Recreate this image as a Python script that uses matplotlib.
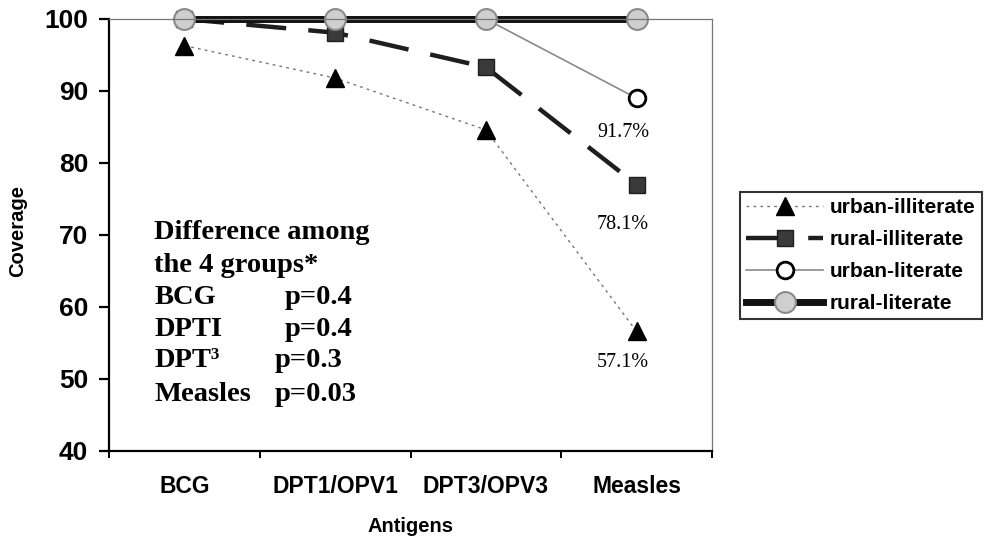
# ==========================================
# Immunisation coverage by group
# ==========================================

import matplotlib
matplotlib.use("Agg")
import matplotlib.pyplot as plt

# ==========================================
# Data
# ==========================================

antigens = ["BCG", "DPT1/OPV1", "DPT3/OPV3", "Measles"]

urban_illiterate = [96.3, 91.8, 84.6, 56.6]
rural_illiterate = [100, 98.1, 93.3, 77.0]
urban_literate = [100, 100, 100, 89.0]
rural_literate = [100, 100, 100, 100]

measles_labels = ["91.7%", "78.1%", "57.1%"]
measles_label_y = [84.3, 71.45, 52.25]

note_left = ["Difference among", "the 4 groups*", "BCG", "DPTI", "DPT\u00b3", "Measles"]
note_right = ["", "", "p=0.4", "p=0.4", "p=0.3", "p=0.03"]

# ==========================================
# Figure
# ==========================================

fig = plt.figure(figsize=(9.98, 5.40), dpi=100)
W, H = 998, 540
ax = fig.add_axes([109 / W, 89 / H, (712 - 109) / W, (451 - 19) / H])

x = list(range(len(antigens)))

ax.plot(x, urban_illiterate, color="#777777", lw=1.0, ls=(0, (2, 3)),
        marker="^", markersize=13, markerfacecolor="black",
        markeredgecolor="black", label="urban-illiterate", clip_on=False)
ax.plot(x, rural_illiterate, color="#1e1e1e", lw=3.2, ls=(0, (9, 5)),
        marker="s", markersize=11, markerfacecolor="#3a3a3a",
        markeredgecolor="#1e1e1e", label="rural-illiterate", clip_on=False)
ax.plot(x, urban_literate, color="#8a8a8a", lw=1.2, ls="-",
        marker="o", markersize=12, markerfacecolor="white",
        markeredgecolor="black", markeredgewidth=2,
        label="urban-literate", clip_on=False)
ax.plot(x, rural_literate, color="#111111", lw=5, ls="-",
        marker="o", markersize=15, markerfacecolor="#cfcfcf",
        markeredgecolor="#8a8a8a", markeredgewidth=1.5,
        label="rural-literate", clip_on=False)

# ==========================================
# Axes
# ==========================================

ax.set_xlim(-0.5, len(antigens) - 0.5)
ax.set_ylim(40, 100)
ax.set_yticks([40, 50, 60, 70, 80, 90, 100])

ax.set_xticks([i - 0.5 for i in range(len(antigens) + 1)])
ax.set_xticklabels([])
ax.set_xticks(x, minor=True)
ax.set_xticklabels(antigens, minor=True)

ax.tick_params(axis="y", direction="out", length=7, width=1.6, pad=8,
               labelsize=19)
ax.tick_params(axis="x", which="major", direction="out", length=5, width=1.4)
ax.tick_params(axis="x", which="minor", length=0, pad=17, labelsize=16.5)

for lbl in ax.get_yticklabels() + ax.get_xticklabels(minor=True):
    lbl.set_fontweight("bold")
    lbl.set_fontfamily("Liberation Sans")

for side in ["left", "bottom"]:
    ax.spines[side].set_linewidth(1.6)
    ax.spines[side].set_color("black")
for side in ["top", "right"]:
    ax.spines[side].set_linewidth(0.9)
    ax.spines[side].set_color("#777777")

fig.text(18 / W, 1 - 231 / H, "Coverage", rotation=90, ha="center",
         va="center", fontsize=14.5, fontweight="bold",
         family="Liberation Sans")
fig.text(411 / W, 1 - 526 / H, "Antigens", ha="center", va="center",
         fontsize=14.5, fontweight="bold", family="Liberation Sans")

# ==========================================
# Annotations
# ==========================================

for lbl, yv in zip(measles_labels, measles_label_y):
    ax.text(2.91, yv, lbl, ha="center", va="center", fontsize=14.5,
            family="Liberation Serif")

note_y = [69.5, 64.9, 60.46, 56.0, 51.69, 46.96]
note_px = [None, None, 0.664, 0.664, 0.598, 0.598]
for left, right, yv, px in zip(note_left, note_right, note_y, note_px):
    ax.text(-0.2, yv, left, ha="left", va="baseline", fontsize=20.5,
            fontweight="bold", family="Liberation Serif")
    if right:
        ax.text(px, yv, right, ha="left", va="baseline", fontsize=20.5,
                fontweight="bold", family="Liberation Serif")

# ==========================================
# Legend
# ==========================================

leg = fig.legend(loc="upper left", bbox_to_anchor=(740 / W, 1 - 192 / H),
                 borderaxespad=0, handlelength=3.7, handletextpad=0.3,
                 labelspacing=0.62, borderpad=0.3, fancybox=False,
                 prop={"family": "Liberation Sans", "weight": "bold",
                       "size": 15})
leg.get_frame().set_edgecolor("black")
leg.get_frame().set_linewidth(1.5)

fig.savefig("out.png", dpi=100)
